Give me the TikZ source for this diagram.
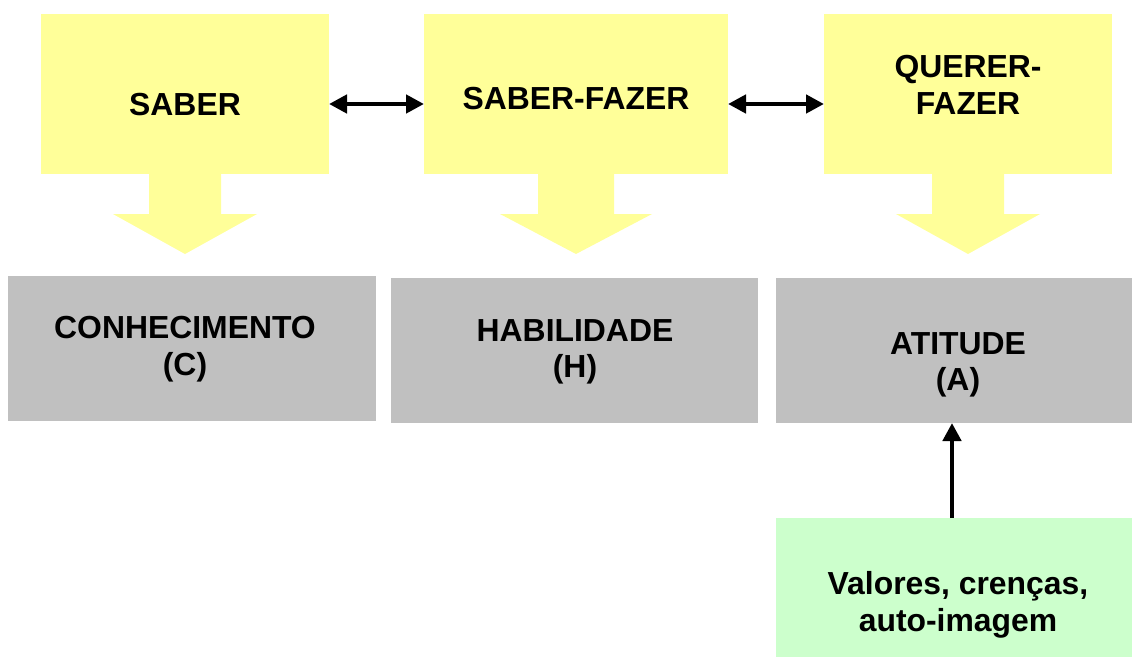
\documentclass[tikz,border=0pt]{standalone}
\usepackage{fontspec}
\setmainfont{Liberation Sans}
\usetikzlibrary{arrows.meta}
\definecolor{amarelo}{HTML}{FFFF99}
\definecolor{cinza}{HTML}{C0C0C0}
\definecolor{verde}{HTML}{CCFFCC}
\tikzstyle{caixa} = [inner sep=0pt, outer sep=0pt]
\tikzstyle{topo} = [caixa, fill=amarelo, minimum height=160bp]
\tikzstyle{nivel} = [caixa, fill=cinza, minimum height=145bp]
\tikzstyle{fonte} = [caixa, fill=verde, minimum height=139bp]
\tikzstyle{texto} = [font={\fontsize{32}{36.5}\selectfont\bfseries}, align=center]
\tikzstyle{bloco} = [fill=amarelo]
\tikzstyle{seta} = [line width=4.5bp, -{Triangle[length=18bp,width=18bp]}]
\tikzstyle{dupla} = [seta, {Triangle[length=18bp,width=18bp]}-{Triangle[length=18bp,width=18bp]}]

\begin{document}
\begin{tikzpicture}[x=1bp,y=-1bp]
        \useasboundingbox (0,0) rectangle (1132,657);
        % linha de cima
        \node[topo,minimum width=288bp](saber) at (185,94){};
        \node[topo,minimum width=304bp](sabfaz) at (576,94){};
        \node[topo,minimum width=288bp](querer) at (968,94){};
        \node[texto](saber-t) at (185,105){SABER};
        \node[texto](sabfaz-t) at (576,99){SABER-FAZER};
        \node[texto](querer-t) at (968,85){QUERER-\\FAZER};
        % setas largas
        \fill[bloco,shift={(saber.south)}] (-36,0) -- (36,0) -- (36,40) -- (72,40) -- (0,80) -- (-72,40) -- (-36,40) -- cycle;
        \fill[bloco,shift={(sabfaz.south)}] (-38,0) -- (38,0) -- (38,40) -- (76,40) -- (0,80) -- (-76,40) -- (-38,40) -- cycle;
        \fill[bloco,shift={(querer.south)}] (-36,0) -- (36,0) -- (36,40) -- (72,40) -- (0,80) -- (-72,40) -- (-36,40) -- cycle;
        % linha de baixo
        \node[nivel,minimum width=368bp](conhec) at (192,348.5){};
        \node[nivel,minimum width=367bp](habil) at (574.5,350.5){};
        \node[nivel,minimum width=356bp](atit) at (954,350.5){};
        \node[texto](conhec-t) at (185,349){CONHECIMENTO\\(C)};
        \node[texto](habil-t) at (575,352){HABILIDADE\\(H)};
        \node[texto](atit-t) at (958,365){ATITUDE\\(A)};
        \node[fonte,minimum width=356bp](valores) at (954,587.5){};
        \node[texto](valores-t) at (958,605){Valores, crenças,\\auto-imagem};
        % setas
        \draw[dupla]([yshift=-10bp]saber.east)--([yshift=-10bp]sabfaz.west);
        \draw[dupla]([yshift=-10bp]sabfaz.east)--([yshift=-10bp]querer.west);
        \draw[seta]([xshift=-2bp]valores.north)--([xshift=-2bp]atit.south);
      \end{tikzpicture}
\end{document}
